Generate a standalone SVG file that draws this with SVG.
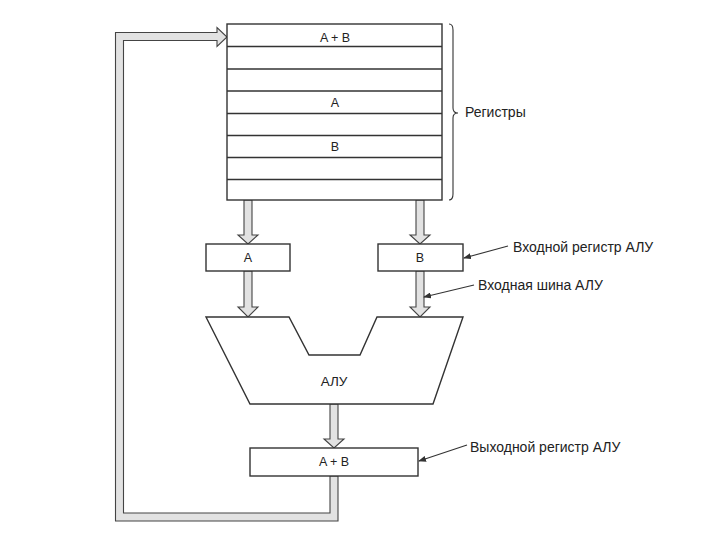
<svg xmlns="http://www.w3.org/2000/svg" width="720" height="540" viewBox="0 0 720 540">
<defs>
<style>
.box{fill:#fff;stroke:#333;stroke-width:1.4}
.row{stroke:#333;stroke-width:1.3}
.pipe{fill:#e2e2e2;stroke:#444;stroke-width:1.1;stroke-linejoin:miter}
.t{font-family:"Liberation Sans",Arial,sans-serif;font-size:12.5px;fill:#222;text-anchor:middle}
.lbl{font-family:"Liberation Sans",Arial,sans-serif;font-size:14px;fill:#222}
.lead{stroke:#333;stroke-width:1.1;fill:none}
</style>
<marker id="ah" markerWidth="8" markerHeight="6" refX="7" refY="3" orient="auto" markerUnits="userSpaceOnUse">
<path d="M0,0 L8,3 L0,6 Z" fill="#333"/>
</marker>
</defs>
<rect width="720" height="540" fill="#fff"/>

<g id="connectors">
<path class="pipe" d="M330,476 L330,513 L123.5,513 L123.5,40.5 L217,40.5 L217,46.5 L227,37 L217,27.5 L217,32.5 L115.5,32.5 L115.5,521 L338,521 L338,476 Z"/>
<path class="pipe" d="M244,200 L252,200 L252,235 L258,235 L248,244 L238,235 L244,235 Z"/>
<path class="pipe" d="M416,200 L424,200 L424,235 L430,235 L420,244 L410,235 L416,235 Z"/>
<path class="pipe" d="M244,271 L252,271 L252,307 L258,307 L248,317 L238,307 L244,307 Z"/>
<path class="pipe" d="M416,271 L424,271 L424,307 L430,307 L420,317 L410,307 L416,307 Z"/>
<path class="pipe" d="M330,404 L338,404 L338,439 L344,439 L334,448 L324,439 L330,439 Z"/>
<path class="lead" d="M449,24 Q453,24 453,30 L453,108 Q453,113 458,113 Q453,113 453,118 L453,194 Q453,200 449,200"/>
<line class="lead" x1="508" y1="246" x2="464" y2="258" marker-end="url(#ah)"/>
<line class="lead" x1="474" y1="285" x2="424" y2="297" marker-end="url(#ah)"/>
<line class="lead" x1="467" y1="445" x2="419" y2="461" marker-end="url(#ah)"/>
</g>

<g id="registers">
<rect class="box" x="227" y="24" width="215" height="176"/>
<line class="row" x1="227" y1="46.5" x2="442" y2="46.5"/>
<line class="row" x1="227" y1="69" x2="442" y2="69"/>
<line class="row" x1="227" y1="91" x2="442" y2="91"/>
<line class="row" x1="227" y1="113.5" x2="442" y2="113.5"/>
<line class="row" x1="227" y1="135.5" x2="442" y2="135.5"/>
<line class="row" x1="227" y1="157.5" x2="442" y2="157.5"/>
<line class="row" x1="227" y1="179.5" x2="442" y2="179.5"/>
<text class="t" x="335" y="42">A + B</text>
<text class="t" x="335" y="107">A</text>
<text class="t" x="335" y="151">B</text>
</g>
<g id="reg-label"><text class="lbl" x="465" y="117">Регистры</text></g>

<g id="in-a">
<rect class="box" x="206" y="244" width="84" height="27"/>
<text class="t" x="248" y="262">A</text>
</g>
<g id="in-b">
<rect class="box" x="378" y="244" width="85" height="27"/>
<text class="t" x="420" y="262">B</text>
</g>
<g id="in-label"><text class="lbl" x="513" y="252">Входной регистр АЛУ</text></g>
<g id="bus-label"><text class="lbl" x="478" y="290">Входная шина АЛУ</text></g>

<g id="alu">
<path class="box" d="M206,317 L289,317 L309,355 L360,355 L377,317 L463,317 L433,404 L250,404 Z"/>
<text class="t" x="334" y="386" style="font-size:13.5px">АЛУ</text>
</g>

<g id="out">
<rect class="box" x="250" y="448" width="168" height="28"/>
<text class="t" x="334" y="466">A + B</text>
</g>
<g id="out-label"><text class="lbl" x="470" y="452">Выходной регистр АЛУ</text></g>
</svg>
